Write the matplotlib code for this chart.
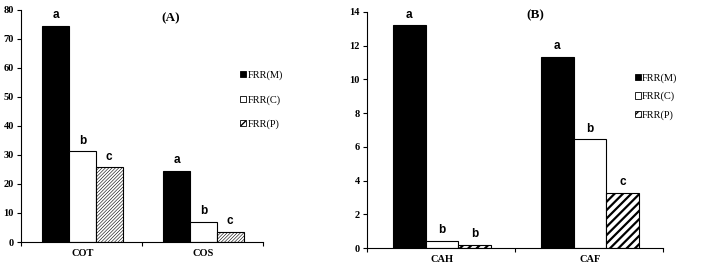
import numpy as np
import matplotlib.pyplot as plt
from matplotlib.patches import Patch

# panel A
cats_a = ['COT', 'COS']
m_a = [74.5, 24.6]
c_a = [31.2, 7.0]
p_a = [25.7, 3.5]
let_a = [['a', 'b', 'c'], ['a', 'b', 'c']]

# panel B
cats_b = ['CAH', 'CAF']
m_b = [13.2, 11.35]
c_b = [0.42, 6.45]
p_b = [0.2, 3.25]
let_b = [['a', 'b', 'b'], ['a', 'b', 'c']]

series_names = ['FRR(M)', 'FRR(C)', 'FRR(P)']

serif = 'Liberation Serif'
sans = 'Liberation Sans'


def panel(ax, cats, vals, letters, ymax, ystep, title, hatch, hlw, leg_y, leg_sp, tpos):
    x = np.arange(len(cats)) + 0.507
    w = 0.222
    styles = [dict(color='black', edgecolor='black'),
              dict(color='white', edgecolor='black'),
              dict(color='white', edgecolor='black', hatch=hatch)]
    for k, (v, st) in enumerate(zip(vals, styles)):
        bars = ax.bar(x + (k - 1) * w, v, w, linewidth=0.8, **st)
        if k == 2:
            for b in bars:
                try:
                    b.set_hatch_linewidth(hlw)
                except AttributeError:
                    pass
        for i, b in enumerate(bars):
            ax.text(b.get_x() + w / 2, v[i] + ymax * 0.02, letters[i][k],
                    ha='center', va='bottom', fontsize=8.5, fontweight='bold',
                    family=sans)
    ax.set_xlim(0, len(cats))
    ax.set_ylim(0, ymax)
    ax.set_xticks([0, 1, 2])
    ax.set_xticklabels([])
    ax.set_xticks(x, minor=True)
    ax.set_xticklabels(cats, minor=True, fontsize=7.5, fontweight='bold', family=serif)
    ax.tick_params(axis='x', which='minor', length=0, pad=5)
    ax.tick_params(axis='x', which='major', length=3, direction='out', width=0.8)
    ax.set_yticks(np.arange(0, ymax + 0.1, ystep))
    ax.tick_params(axis='y', length=3, width=0.8, labelsize=7.5, pad=2)
    for lab in ax.get_yticklabels():
        lab.set_fontweight('bold')
        lab.set_family(serif)
    ax.spines['top'].set_visible(False)
    ax.spines['right'].set_visible(False)
    ax.text(tpos[0], tpos[1], title, transform=ax.transAxes, ha='center',
            va='center', fontsize=9.5, fontweight='bold', family=serif)
    handles = [Patch(facecolor='black', edgecolor='black', linewidth=0.6),
               Patch(facecolor='white', edgecolor='black', linewidth=0.6),
               Patch(facecolor='white', edgecolor='black', hatch='////', linewidth=0.6)]
    ax.legend(handles, series_names, loc='upper left', bbox_to_anchor=(0.905, leg_y),
              frameon=False, handlelength=0.55, handleheight=0.55, handletextpad=0.15,
              labelspacing=leg_sp, borderaxespad=0, borderpad=0,
              prop={'family': serif, 'size': 7.5})


fig = plt.figure(figsize=(7.09, 2.68), dpi=100)
ax1 = fig.add_axes([0.0296, 0.097, 0.3413, 0.866])
ax2 = fig.add_axes([0.5176, 0.0746, 0.4175, 0.881])

panel(ax1, cats_a, [m_a, c_a, p_a], let_a, 80, 10, '(A)', '//////////', 0.4,
      0.74, 1.45, (0.62, 0.965))
panel(ax2, cats_b, [m_b, c_b, p_b], let_b, 14, 2, '(B)', '////', 1.6,
      0.74, 0.85, (0.57, 0.985))

fig.savefig('out.png', dpi=100)
